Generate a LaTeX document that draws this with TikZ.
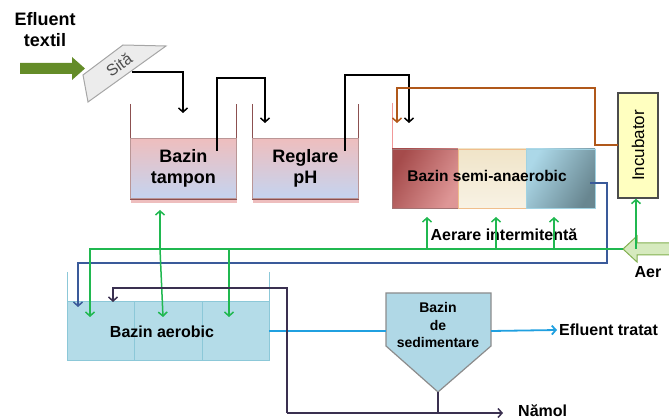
\documentclass[tikz,border=0pt]{standalone}
\usepackage{fontspec}
\setmainfont{Liberation Sans}
\usetikzlibrary{arrows.meta,positioning}

\definecolor{pipebrown}{RGB}{176,88,26}
\definecolor{airgreen}{RGB}{32,184,80}
\definecolor{recblue}{RGB}{58,90,154}
\definecolor{sludge}{RGB}{58,48,80}
\definecolor{outcyan}{RGB}{32,160,224}
\definecolor{wallred}{RGB}{140,80,80}
\definecolor{liqpink}{RGB}{238,190,190}
\definecolor{liqblue}{RGB}{196,212,240}
\definecolor{aerofill}{RGB}{180,220,232}
\definecolor{aeroline}{RGB}{140,200,216}
\definecolor{olive}{RGB}{100,140,40}
\definecolor{aerfill}{RGB}{214,234,190}
\definecolor{aerline}{RGB}{130,176,80}

\tikzset{
  lbl/.style={font=\bfseries\fontsize{16}{18}\selectfont, inner sep=0pt, align=center},
  biglbl/.style={font=\bfseries\fontsize{18}{21}\selectfont, inner sep=0pt, align=center},
  tankwall/.style={draw=wallred, line width=0.9pt},
  liquid/.style={draw=wallred!60, line width=0.6pt, top color=liqpink, bottom color=liqblue,
    inner sep=0pt, anchor=south west, biglbl},
  aerocell/.style={draw=aeroline, line width=0.8pt, fill=aerofill, inner sep=0pt,
    minimum height=59, anchor=south west},
  semicell/.style={inner sep=0pt, minimum height=59, anchor=south west},
  pipe/.style={line width=1.5pt, -{Straight Barb[length=4pt,width=9pt]}},
}

\begin{document}
\begin{tikzpicture}[x=1pt,y=-1pt]
	\useasboundingbox (0,0) rectangle (669,419);

	% 1. intrare: efluent textil si sita
	\node[biglbl] (efl) at (45,30) {Efluent\\textil};
	\fill[olive] (20,63) -- (72,63) -- (72,57) -- (85,68.5) -- (72,80) -- (72,74) -- (20,74) -- cycle;
	\draw[gray!70, line width=1pt, fill=gray!15] (123,45) -- (166,46) -- (88,102) -- (83,75) -- cycle;
	\node[rotate=35, font=\fontsize{16}{18}\selectfont, text=black!70, inner sep=0pt] (sita) at (119,65) {Sită};
	\coordinate (sitaout) at (132,72);

	% 2. bazin tampon si reglare pH
	\draw[tankwall] (130,104) |- (236,199) -- (236,104);
	\node[liquid, minimum width=106, minimum height=60] (tampon) at (130,199) {Bazin\\tampon};
	\draw[tankwall] (252,104) |- (358,199) -- (358,104);
	\node[liquid, minimum width=106, minimum height=60] (regph) at (252,199) {Reglare\\pH};
	\draw[liqpink, line width=2.5pt] (131,201.5) -- (237,201.5) (253,201.5) -- (359,201.5);

	% 3. bazin semi-anaerobic si incubator
	\draw[liqpink!80!red, line width=0.8pt] (392,103) -- (392,149);
	\node[semicell, minimum width=66, draw=wallred!80, left color={rgb,255:red,165;green,75;blue,75},
	  right color={rgb,255:red,222;green,150;blue,150}, shading angle=60] (semi1) at (392,208) {};
	\node[semicell, minimum width=68, draw={rgb,255:red,240;green,190;blue,140},
	  top color={rgb,255:red,240;green,228;blue,200}, bottom color={rgb,255:red,248;green,242;blue,228}] (semi2) at (458,208) {};
	\node[semicell, minimum width=69, draw={rgb,255:red,160;green,210;blue,226},
	  left color={rgb,255:red,172;green,216;blue,232}, right color={rgb,255:red,104;green,134;blue,144}, shading angle=60] (semi3) at (526,208) {};
	\node[lbl, font=\bfseries\fontsize{15.5}{18}\selectfont] (semitxt) at (487,176) {Bazin semi-anaerobic};
	\node[draw=black!70, line width=1.4pt, fill={rgb,255:red,255;green,255;blue,192}, minimum width=40,
	  minimum height=105, inner sep=0pt] (incub) at (638,145.5) {};
	\node[rotate=90, font=\fontsize{17}{20}\selectfont, inner sep=0pt] (incubtxt) at (incub.center) {Incubator};

	% 4. bazin aerobic
	\draw[aeroline, line width=0.8pt] (67,272) -- (67,302) (269,272) -- (269,302);
	\node[aerocell, minimum width=67] (aero1) at (67,361) {};
	\node[aerocell, minimum width=68] (aero2) at (134,361) {};
	\node[aerocell, minimum width=67] (aero3) at (202,361) {};
	\node[lbl] (aerotxt) at (162,332) {Bazin aerobic};

	% 5. bazin de sedimentare
	\draw[gray!90, line width=1.2pt, fill={rgb,255:red,176;green,216;blue,230}]
	  (386,293) -- (491,293) -- (491,346) -- (438,392) -- (386,346) -- cycle;
	\node[lbl, font=\bfseries\fontsize{14}{17.5}\selectfont] (sedtxt) at (438,325) {Bazin\\de\\sedimentare};
	\coordinate (sedin) at (386,331);
	\coordinate (sedout) at (491,331);
	\coordinate (sedbot) at (438,392);

	% 6. aer
	\draw[aerline, line width=1pt, fill=aerfill] (623,249) -- (637,236) -- (637,243) -- (672,243)
	  -- (672,255) -- (637,255) -- (637,262) -- cycle;
	\coordinate (aertip) at (623,249);
	\node[lbl] (aer) at (648,272) {Aer};
	\node[lbl] (aerare) at (504,235) {Aerare intermitentă};

	% 7. iesiri
	\node[lbl, anchor=west] (tratat) at (559,330) {Efluent tratat};
	\node[lbl, anchor=west] (namol) at (518,411) {Nămol};

	% 8. conducte
	% linia principala
	\coordinate (k2) at (265,78);
	\coordinate (k3) at (409,75);
	\draw[pipe] (sitaout) -| (183,113);
	\draw[pipe] (217,151) |- (k2) -- (265,123);
	\draw[pipe] (345,151) |- (k3) -- (409,123);
	% recirculare incubator
	\coordinate (kb) at (595,88);
	\draw[pipe, pipebrown] (618,145) -| (kb) -| (397,123);
	% recirculare semi-anaerobic -> aerobic
	\coordinate (kr) at (607,263);
	\draw[pipe, recblue] (590,183) -| (kr) -| (78,307);
	% aerare
	\draw[pipe, airgreen] (aertip) -| (90,317);
	\draw[pipe, airgreen] (160,249) -- (160,210);
	\draw[pipe, airgreen] (160,249) -- (163,317);
	\draw[pipe, airgreen] (229,249) -- (229,317);
	\foreach \xa in {427,496,554}
	  \draw[pipe, airgreen] (\xa,249) -- (\xa,217);
	\draw[pipe, airgreen] (636,249) -- (incub.south -| 636,0);
	% efluent tratat
	\draw[line width=1.8pt, outcyan] (269,331) -- (sedin);
	\draw[pipe, line width=1.8pt, outcyan] (sedout) -- ([xshift=-2]tratat.west);
	% namol
	\coordinate (ret) at (287,413);
	\draw[pipe, sludge] (ret) |- (113,288) -- (113,302);
	\draw[line width=1.5pt, sludge] (sedbot) -- (sedbot |- ret);
	\draw[pipe, sludge] (ret) -- (503,413);
\end{tikzpicture}
\end{document}
